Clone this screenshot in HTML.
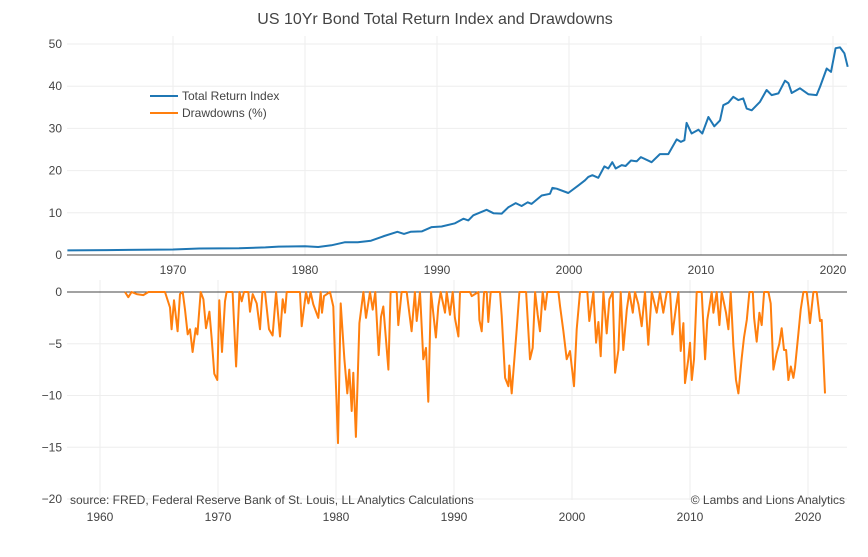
<!DOCTYPE html>
<html><head><meta charset="utf-8"><style>
html,body{margin:0;padding:0;background:#fff;}
svg{display:block;font-family:"Liberation Sans",sans-serif;}
</style></head><body>
<svg id="chart" width="868" height="557">
<text x="435" y="24" text-anchor="middle" font-size="16" fill="#444">US 10Yr Bond Total Return Index and Drawdowns</text>
<g id="g-top"></g>
<g id="g-bot"></g>
<g>
<line x1="150" y1="96" x2="178" y2="96" stroke="#1f77b4" stroke-width="2"/>
<text x="182" y="100" font-size="12" fill="#444">Total Return Index</text>
<line x1="150" y1="113" x2="178" y2="113" stroke="#ff7f0e" stroke-width="2"/>
<text x="182" y="117" font-size="12" fill="#444">Drawdowns (%)</text>
</g>
<text x="70" y="504" font-size="12" fill="#444">source: FRED, Federal Reserve Bank of St. Louis, LL Analytics Calculations</text>
<text x="845" y="504" text-anchor="end" font-size="12" fill="#444">© Lambs and Lions Analytics</text>
</svg>
<script>
const triYears=[1962,1965,1970,1972,1975,1977,1978,1980,1981,1982,1983,1984,1985,1986,1987,1987.5,1988,1988.84,1989.6,1990.35,1991.36,1992.0,1992.37,1992.75,1993.76,1994.27,1994.9,1995.4,1995.96,1996.41,1996.87,1997.17,1997.93,1998.56,1998.74,1999.07,1999.95,2000.71,2001.21,2001.46,2001.77,2002.22,2002.68,2002.98,2003.28,2003.54,2003.99,2004.29,2004.7,2005.13,2005.45,2006.26,2006.89,2007.52,2008.16,2008.48,2008.74,2008.91,2009.29,2009.8,2010.1,2010.56,2011.01,2011.44,2011.69,2012.07,2012.45,2012.83,2013.2,2013.46,2013.84,2014.47,2014.97,2015.35,2015.86,2016.36,2016.62,2016.87,2017.5,2018.13,2018.76,2019.02,2019.52,2019.85,2020.2,2020.53,2020.86,2021.11];
const triValues=[1.1,1.15,1.3,1.55,1.6,1.8,2.0,2.05,1.9,2.3,3.0,3.0,3.4,4.5,5.5,5.0,5.5,5.6,6.6,6.75,7.5,8.6,8.2,9.4,10.7,9.9,9.8,11.3,12.3,11.6,12.5,12.1,14.1,14.5,15.9,15.7,14.7,16.5,17.7,18.5,18.9,18.3,21.0,20.5,22.0,20.5,21.3,21.1,22.4,22.2,23.2,22.0,23.9,23.9,27.4,26.8,27.2,31.3,28.8,29.7,28.8,32.7,30.5,31.9,35.5,36.1,37.5,36.7,37.1,34.7,34.3,36.3,39.1,37.9,38.3,41.3,40.7,38.4,39.5,38.1,37.9,39.9,44.2,43.4,49.0,49.2,47.8,44.6];
const ddYears=[1962.12,1962.40,1962.68,1963.11,1963.67,1964.10,1965.51,1965.93,1966.07,1966.27,1966.58,1966.78,1967.01,1967.20,1967.43,1967.63,1967.85,1968.11,1968.25,1968.53,1968.76,1968.98,1969.27,1969.46,1969.69,1969.94,1970.11,1970.34,1970.59,1970.73,1971.24,1971.53,1971.81,1972.01,1972.20,1972.57,1972.71,1972.94,1973.28,1973.56,1973.76,1973.98,1974.32,1974.63,1974.92,1975.25,1975.48,1975.68,1975.82,1976.95,1977.09,1977.46,1977.66,1977.85,1978.08,1978.50,1978.70,1978.81,1978.98,1979.49,1979.77,1979.97,1980.17,1980.40,1980.71,1980.96,1981.13,1981.33,1981.47,1981.69,1981.98,1982.32,1982.54,1982.88,1983.11,1983.33,1983.62,1983.81,1984.01,1984.44,1984.63,1985.14,1985.28,1985.56,1985.99,1986.41,1986.69,1986.84,1987.12,1987.40,1987.63,1987.82,1988.05,1988.47,1988.67,1988.87,1989.24,1989.38,1989.66,1989.89,1990.08,1990.37,1990.51,1991.36,1991.50,1992.07,1992.15,1992.35,1992.55,1992.77,1992.91,1993.11,1993.90,1994.04,1994.33,1994.61,1994.69,1994.89,1995.31,1995.54,1996.11,1996.44,1996.67,1996.87,1997.09,1997.29,1997.52,1997.72,1997.91,1998.85,1998.99,1999.27,1999.55,1999.83,2000.17,2000.40,2000.68,2001.30,2001.47,2001.81,2002.04,2002.24,2002.43,2002.66,2002.94,2003.17,2003.45,2003.65,2003.93,2004.13,2004.35,2004.64,2004.86,2005.15,2005.34,2005.63,2005.91,2006.19,2006.47,2006.76,2007.18,2007.46,2007.74,2008.03,2008.31,2008.51,2008.82,2009.02,2009.21,2009.44,2009.58,2009.86,2010.00,2010.15,2010.34,2010.57,2010.99,2011.28,2011.47,2011.84,2011.98,2012.26,2012.49,2012.69,2013.05,2013.25,2013.45,2013.68,2013.90,2014.10,2014.38,2014.58,2014.81,2015.03,2015.32,2015.43,2015.65,2015.88,2016.08,2016.28,2016.64,2016.84,2017.07,2017.35,2017.57,2017.77,2017.97,2018.14,2018.34,2018.54,2018.76,2018.90,2019.19,2019.38,2019.61,2019.89,2020.03,2020.17,2020.46,2020.74,2020.88,2021.02,2021.16,2021.44];
const ddValues=[0,-0.5,0,-0.2,-0.3,0,0,-1.5,-3.6,-0.8,-3.8,-0.2,0,-1.7,-4.1,-3.6,-5.8,-3.5,-4.1,0,-0.7,-3.5,-1.9,-4.4,-7.9,-8.5,-0.8,-5.8,-0.9,0,0,-7.2,0,-0.9,0,0,-1.9,-0.2,-1.1,-3.6,0,0,-3.6,-4.2,0,-4.3,-0.7,-2.0,0,0,-3.3,0,-1.1,0,-1.2,-2.5,0,-2.0,-0.4,0,-1.4,-8.1,-14.6,-1.1,-6.5,-9.8,-7.5,-11.5,-7.8,-14.0,-3.0,0,-2.5,0,-1.7,0,-6.1,-2.4,-1.4,-7.5,0,0,-3.2,0,0,-3.8,0,-2.8,0,-6.5,-5.4,-10.6,0,-4.4,-1.4,0,-2.0,0,-2.2,0,-2.5,-4.3,0,0,-0.4,0,-2.7,-3.8,0,0,-2.9,0,0,-2.3,-8.3,-9.1,-7.1,-9.8,-3.6,0,0,-6.5,-5.4,0,-2.2,-3.8,0,-1.7,0,0,-1.4,-3.8,-6.5,-5.7,-9.1,-3.6,0,0,-2.8,0,-4.9,-2.9,-6.2,0,-4.0,-0.7,0,-7.8,-5.6,0,-5.6,-1.7,0,-2.0,0,-1.2,-3.3,0,-5.1,0,-2.0,0,-2.0,0,0,-4.1,-1.4,0,-5.7,-3.0,-8.8,-6.5,-4.9,-8.5,-6.5,0,0,-6.5,-2.7,0,-2.0,0,-3.2,0,-2.0,-3.6,0,-5.2,-8.5,-9.8,-6.4,-4.4,-2.7,0,0,-2.5,-4.8,-2.0,-3.2,0,0,-1.1,-7.5,-5.9,-5.0,-3.5,-5.6,-5.6,-8.5,-7.2,-8.3,-7.3,-4.0,-1.7,0,0,-1.4,-3.0,0,0,-1.4,-2.8,-2.7,-9.8];
const topXTicks=[1970,1980,1990,2000,2010,2020];
const topYTicks=[0,10,20,30,40,50];
const botXTicks=[1960,1970,1980,1990,2000,2010,2020];
const botYTicks=[0,-5,-10,-15,-20];

const NS='http://www.w3.org/2000/svg';
function mk(tag,attrs,parent,text){const e=document.createElementNS(NS,tag);for(const k in attrs)e.setAttribute(k,attrs[k]);if(text!==undefined)e.textContent=text;parent.appendChild(e);return e;}
const L=67,R=847;
// top axes
const tx=y=>173+(y-1970)*13.2;
const ty=v=>255-v*4.22;
// bottom axes
const bx=y=>100+(y-1960)*11.8;
const by=v=>292-v*(-10.35)*-1;
function byv(v){return 292-v*10.35;}
const gt=document.getElementById('g-top'), gb=document.getElementById('g-bot');
topYTicks.forEach(v=>{
  if(v!==0){const g=mk('line',{x1:L,x2:R,y1:ty(v),y2:ty(v),stroke:'#eee'},gt);
  
  }
  const t=mk('text',{x:L-5,y:ty(v)+4,'text-anchor':'end','font-size':12,fill:'#444'},gt,String(v));
  
  
});
topXTicks.forEach(v=>{
  const g=mk('line',{x1:tx(v),x2:tx(v),y1:36,y2:255,stroke:'#eee'},gt);
  
  
  const t=mk('text',{x:tx(v),y:274,'text-anchor':'middle','font-size':12,fill:'#444'},gt,String(v));
  
  
});
const za=mk('line',{x1:L,x2:R,y1:255,y2:255,stroke:'#444','stroke-width':1},gt);


const tp=mk('polyline',{points:triYears.map((y,i)=>tx(y).toFixed(1)+','+ty(triValues[i]).toFixed(1)).join(' '),fill:'none',stroke:'#1f77b4','stroke-width':2,'stroke-linejoin':'round'},gt);



botYTicks.forEach(v=>{
  if(v!==0){const g=mk('line',{x1:L,x2:R,y1:byv(v),y2:byv(v),stroke:'#eee'},gb);
  
  }
  const t=mk('text',{x:L-5,y:byv(v)+4,'text-anchor':'end','font-size':12,fill:'#444'},gb,(v<0?'\u2212'+(-v):String(v)));
  
  
});
botXTicks.forEach(v=>{
  const g=mk('line',{x1:bx(v),x2:bx(v),y1:280,y2:500,stroke:'#eee'},gb);
  
  
  const t=mk('text',{x:bx(v),y:521,'text-anchor':'middle','font-size':12,fill:'#444'},gb,String(v));
  
  
});
const zb=mk('line',{x1:L,x2:R,y1:292,y2:292,stroke:'#444','stroke-width':1},gb);


const dp=mk('polyline',{points:ddYears.map((y,i)=>bx(y).toFixed(1)+','+byv(ddValues[i]).toFixed(1)).join(' '),fill:'none',stroke:'#ff7f0e','stroke-width':2,'stroke-linejoin':'round'},gb);


</script>
</body></html>
